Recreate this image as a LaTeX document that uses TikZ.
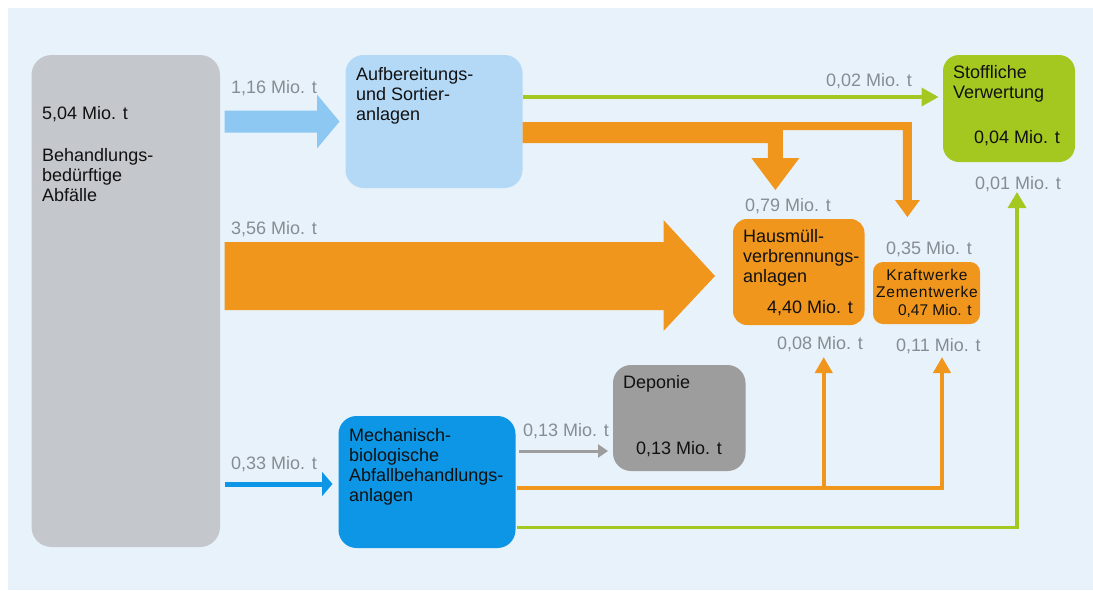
\documentclass[tikz,border=0pt]{standalone}
\usepackage{fontspec}
\setmainfont{Liberation Sans}
\usetikzlibrary{arrows.meta}
\usetikzlibrary{calc}

\definecolor{panelbg}{HTML}{E8F2FB}
\definecolor{wastegray}{HTML}{C4C7CB}
\definecolor{palebox}{HTML}{B3D9F7}
\definecolor{paleflow}{HTML}{8DC8F3}
\definecolor{orangeflow}{HTML}{F0961D}
\definecolor{greenflow}{HTML}{A4C820}
\definecolor{mbablue}{HTML}{0D95E6}
\definecolor{landfill}{HTML}{9D9D9D}
\definecolor{labelgray}{HTML}{868C94}
\definecolor{boxblack}{HTML}{111111}

\tikzset{
  box/.style={rectangle, inner sep=0pt, outer sep=0pt, anchor=north west},
  boxtext/.style={inner sep=0pt, align=left, text=boxblack,
                  font=\fontsize{18}{20}\selectfont},
  smalltext/.style={inner sep=0pt, align=center, text=boxblack,
                  font=\fontsize{15.5}{17}\selectfont\addfontfeatures{LetterSpace=5}},
  flowlabel/.style={inner sep=0pt, anchor=base west, text=labelgray,
                  font=\fontsize{18}{20}\selectfont},
}

\begin{document}
\begin{tikzpicture}[x=1pt, y=-1pt]

  \useasboundingbox (0,0) rectangle (1093,590);
  \fill[white] (0,0) rectangle (1093,590);
  \fill[panelbg] (8,8) rectangle (1093,590);

  % waste input
  \node[box, fill=wastegray, rounded corners=20pt, minimum width=188.5pt, minimum height=492pt]
       (abfall) at (31.5,55) {};
  \node[boxtext, anchor=north west] (abfall-txt) at (42,106.5)
       {5,04 Mio. t\\[22pt]Behandlungs-\\bedürftige\\Abfälle};

  % sorting plants
  \node[box, fill=palebox, rounded corners=18pt, minimum width=177pt, minimum height=133pt]
       (aufb) at (345.5,55) {};
  \node[boxtext, anchor=north west] (aufb-txt) at (356,67.5)
       {Aufbereitungs-\\und Sortier-\\anlagen};

  % material recovery
  \node[box, fill=greenflow, rounded corners=16pt, minimum width=132pt, minimum height=107pt]
       (stoff) at (943,55) {};
  \node[boxtext, anchor=north west] (stoff-txt) at (953,65.5) {Stoffliche\\Verwertung};
  \node[boxtext, anchor=base east] (stoff-menge) at (1060,143.5) {0,04 Mio. t};

  % incineration
  \node[box, fill=orangeflow, rounded corners=14pt, minimum width=131.5pt, minimum height=106pt]
       (hmva) at (733,219) {};
  \node[boxtext, anchor=north west] (hmva-txt) at (743,229.5)
       {Hausmüll-\\verbrennungs-\\anlagen};
  \node[boxtext, anchor=base east] (hmva-menge) at (853,313.5) {4,40 Mio. t};

  % power and cement plants
  \node[box, fill=orangeflow, rounded corners=10pt, minimum width=107pt, minimum height=62pt]
       (kraft) at (873,262) {};
  \node[smalltext, anchor=north] (kraft-txt) at (927,269.5) {Kraftwerke\\Zementwerke};
  \node[boxtext, font=\fontsize{15.5}{17}\selectfont, anchor=base east] (kraft-menge)
       at (972,315.5) {0,47 Mio. t};

  % landfill
  \node[box, fill=landfill, rounded corners=18pt, minimum width=132.5pt, minimum height=106pt]
       (depo) at (613,365) {};
  \node[boxtext, anchor=north west] (depo-txt) at (623,375.5) {Deponie};
  \node[boxtext, anchor=base] (depo-menge) at (679,454.5) {0,13 Mio. t};

  % mechanical-biological treatment
  \node[box, fill=mbablue, rounded corners=18pt, minimum width=177pt, minimum height=132pt]
       (mba) at (338.5,416) {};
  \node[boxtext, anchor=north west] (mba-txt) at (349,428.5)
       {Mechanisch-\\biologische\\Abfallbehandlungs-\\anlagen};

  % broad flows
  \fill[paleflow] ($(abfall.east |- aufb.west)+(4.5,-11)$) -- ++(92.5,0) -- ++(0,-16)
       -- ($(aufb.west)+(-6,0)$) -- ++(-22.5,27) -- ++(0,-16) -- ++(-92.5,0) -- cycle;

  \fill[orangeflow] ($(abfall.east |- hmva.west)+(4.5,-30)$) -- ++(439,0) -- ++(0,-22)
       -- ($(hmva.west)+(-18,4)$) -- ++(-51.5,55) -- ++(0,-21) -- ++(-439,0) -- cycle;

  \fill[orangeflow] ($(aufb.east)+(0,0.5)$) -- ++(389.4,0) -- ++(0,78) -- ++(8,0)
       -- ++(-12.5,17) -- ++(-12.5,-17) -- ++(8,0) -- ++(0,-70) -- ++(-120,0)
       -- ++(0,28) -- ++(16.5,0) -- ++(-24,32) -- ++(-24,-32) -- ++(16.5,0)
       -- ++(0,-15) -- ++(-245.4,0) -- cycle;

  % thin flows
  \coordinate (stoffin) at ($(stoff.south)+(8,30)$);
  \coordinate (hmvain) at ($(hmva.south)+(25,32)$);
  \coordinate (kraftin) at ($(kraft.south)+(15.5,33)$);

  \draw[greenflow, line width=3.5pt, -{Triangle[width=18pt,length=17pt]}, shorten >=4.4pt]
       (aufb.east |- 0,97) -- (stoff.west |- 0,97);
  \draw[greenflow, line width=3.5pt, -{Triangle[width=18pt,length=16pt]}, shorten <=1pt]
       (mba.east |- 0,527.5) -| (stoffin);
  \draw[orangeflow, line width=4pt, -{Triangle[width=17pt,length=16pt]}, shorten <=1pt]
       (mba.east |- 0,487.5) -| (kraftin);
  \draw[orangeflow, line width=4pt, -{Triangle[width=17pt,length=16pt]}]
       (hmvain |- 0,487.5) -- (hmvain);
  \draw[landfill, line width=3pt, -{Triangle[width=13pt,length=10pt]}, shorten <=3pt, shorten >=5pt]
       (mba.east |- 0,451) -- (depo.west |- 0,451);
  \draw[mbablue, line width=5pt, -{Triangle[width=24pt,length=10.5pt]}, shorten <=4.5pt, shorten >=6pt]
       (abfall.east |- 0,484) -- (mba.west |- 0,484);

  % flow amounts
  \node[flowlabel] (l116) at (231,93.5) {1,16 Mio. t};
  \node[flowlabel] (l356) at (231,234.5) {3,56 Mio. t};
  \node[flowlabel] (l033) at (231,469.5) {0,33 Mio. t};
  \node[flowlabel] (l002) at (826,86.5) {0,02 Mio. t};
  \node[flowlabel] (l079) at (745,211.5) {0,79 Mio. t};
  \node[flowlabel] (l035) at (886,254.5) {0,35 Mio. t};
  \node[flowlabel] (l001) at (975,189.5) {0,01 Mio. t};
  \node[flowlabel] (l008) at (777,349.5) {0,08 Mio. t};
  \node[flowlabel] (l011) at (896,351.5) {0,11 Mio. t};
  \node[flowlabel] (l013) at (523,436.5) {0,13 Mio. t};

\end{tikzpicture}
\end{document}
